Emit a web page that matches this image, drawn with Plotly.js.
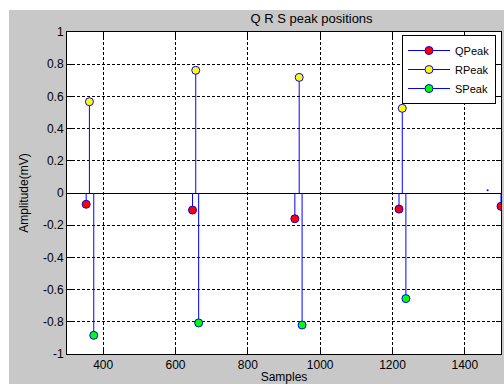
<!DOCTYPE html>
<html>
<head>
<meta charset="utf-8">
<script src="https://cdn.plot.ly/plotly-3.0.1.min.js"></script>
<style>html,body{margin:0;padding:0;background:#fff;}#chart{width:504px;height:384px;}</style>
</head>
<body>
<div id="chart"></div>
<script>
// Data
const qX = [353, 647, 930, 1218, 1500];
const qY = [-0.07, -0.106, -0.16, -0.10, -0.083];
const rX = [362, 656, 942, 1227];
const rY = [0.567, 0.762, 0.718, 0.526];
const sX = [374, 664, 950, 1237];
const sY = [-0.884, -0.807, -0.82, -0.656];
const dotX = [1463];
const dotY = [0.017];
const xTicks = [400, 600, 800, 1000, 1200, 1400];
const yTicks = [-1, -0.8, -0.6, -0.4, -0.2, 0, 0.2, 0.4, 0.6, 0.8, 1];
const yTickText = ['-1', '-0.8', '-0.6', '-0.4', '-0.2', '0', '0.2', '0.4', '0.6', '0.8', '1'];

function stemLines(xArr, yArr) {
  const xs = [], ys = [];
  xArr.forEach((x, i) => { xs.push(x, x, null); ys.push(0, yArr[i], null); });
  return {type: 'scatter', mode: 'lines', x: xs, y: ys, showlegend: false,
          hoverinfo: 'skip', line: {color: '#0000ff', width: 1}};
}

function stemMarkers(xArr, yArr, name, fill) {
  const xs = [], ys = [];
  xArr.forEach((x, i) => { xs.push(x, null); ys.push(yArr[i], null); });
  return {
    type: 'scatter', mode: 'lines+markers', name: name,
    x: xs, y: ys, connectgaps: false,
    line: {color: '#0000ff', width: 1},
    marker: {color: fill, size: 8, line: {color: '#0000ff', width: 1}}
  };
}

const traces = [
  stemLines(qX, qY), stemLines(rX, rY), stemLines(sX, sY),
  stemMarkers(qX, qY, 'QPeak', '#ff0000'),
  stemMarkers(rX, rY, 'RPeak', '#ffff00'),
  stemMarkers(sX, sY, 'SPeak', '#00ff00'),
  {type: 'scatter', mode: 'markers', x: dotX, y: dotY, showlegend: false,
   marker: {color: '#0000ff', size: 2}}
];

const L = 67, R = 3, T = 32, B = 30;
const W = 504, H = 384;
const pw = W - L - R, ph = H - T - B;

const layout = {
  width: W, height: H,
  margin: {l: L, r: R, t: T, b: B, pad: 0},
  paper_bgcolor: '#c8c8c8',
  plot_bgcolor: '#ffffff',
  font: {family: 'Liberation Sans, Arial, sans-serif', size: 12, color: '#000'},
  title: {text: 'Q R S peak positions', x: (L + pw / 2) / W, xref: 'paper', xanchor: 'center',
          y: 1 - 18 / H, yref: 'container', yanchor: 'middle', font: {size: 13, color: '#000'}},
  showlegend: true,
  legend: {x: (496 - L) / pw, xanchor: 'right', y: (H - B - 35) / ph, yanchor: 'top',
           bgcolor: '#ffffff', bordercolor: '#000000', borderwidth: 1, itemwidth: 42,
           font: {size: 11, color: '#000'}, tracegroupgap: 0},
  xaxis: {
    range: [300, 1500], tickmode: 'array', tickvals: xTicks, ticktext: xTicks.map(String),
    showgrid: true, gridcolor: '#000', gridwidth: 1, griddash: '3px,2px',
    zeroline: false, showline: true, linecolor: '#000', linewidth: 1, mirror: 'ticks',
    ticks: 'inside', ticklen: 5, tickcolor: '#000',
    title: {text: 'Samples', font: {size: 12}, standoff: 7}
  },
  yaxis: {
    range: [-1, 1], tickmode: 'array', tickvals: yTicks, ticktext: yTickText,
    showgrid: true, gridcolor: '#000', gridwidth: 1, griddash: '3px,2px',
    zeroline: true, zerolinecolor: '#000', zerolinewidth: 1,
    showline: true, linecolor: '#000', linewidth: 1, mirror: 'ticks',
    ticks: 'inside', ticklen: 5, tickcolor: '#000',
    title: {text: 'Amplitude(mV)', font: {size: 12}, standoff: 11}
  },
  shapes: [
    {type: 'rect', xref: 'paper', yref: 'paper', layer: 'below',
     x0: -L / pw, x1: (9 - L) / pw, y0: -B / ph, y1: (H - B) / ph,
     fillcolor: '#ffffff', line: {width: 0}},
    {type: 'rect', xref: 'paper', yref: 'paper', layer: 'below',
     x0: -L / pw, x1: (W - L) / pw, y0: (H - B - 10) / ph, y1: (H - B) / ph,
     fillcolor: '#ffffff', line: {width: 0}}
  ]
};

Plotly.newPlot('chart', traces, layout, {staticPlot: true, displayModeBar: false});
</script>
</body>
</html>
